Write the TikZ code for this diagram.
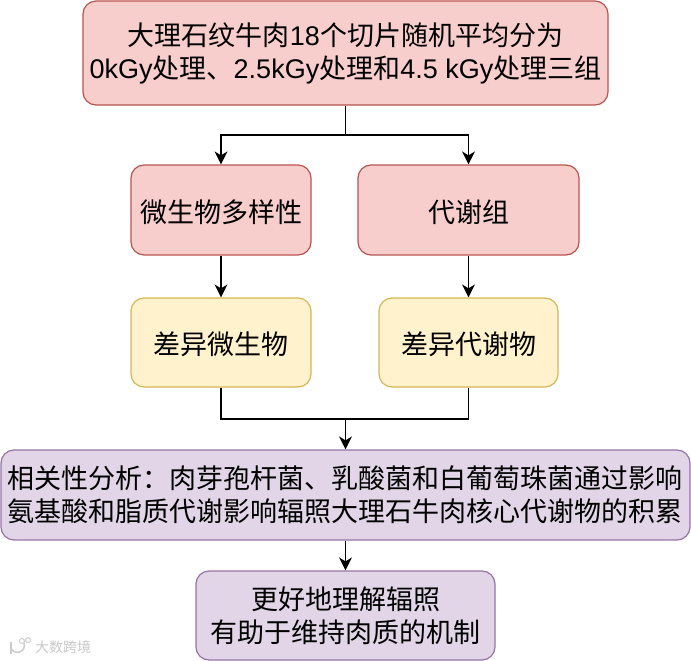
\documentclass[tikz,border=0pt]{standalone}
\usepackage{fontspec}
\usetikzlibrary{arrows.meta}
\setmainfont{Noto Sans CJK SC}
\newfontfamily\latfont{Liberation Sans}
\newcommand{\lat}[1]{{\latfont #1}}
\tikzset{
    boxbase/.style={draw,rounded corners=13pt,line width=1.2pt,inner sep=0pt,align=center,font=\fontsize{27}{33}\selectfont,execute at begin node={\rule{0pt}{27pt}}},
    redbox/.style={boxbase,fill=redfill,draw=redline},
    yellowbox/.style={boxbase,fill=yellowfill,draw=yellowline},
    purplebox/.style={boxbase,fill=purplefill,draw=purpleline},
    link/.style={line width=1.6pt,black},
    arrowlink/.style={link,-{Stealth[length=13pt,width=13pt,inset=4pt]}},
    markline/.style={draw=black!20,line width=1.5pt}
}
\definecolor{redfill}{HTML}{F8CECC} \definecolor{redline}{HTML}{B85450}
\definecolor{yellowfill}{HTML}{FFF2CC} \definecolor{yellowline}{HTML}{D6B656}
\definecolor{purplefill}{HTML}{E1D5E7} \definecolor{purpleline}{HTML}{9673A6}
\begin{document}
\begin{tikzpicture}[x=1pt,y=-1pt]
    \useasboundingbox (0,0) rectangle (691,661);
    \node[redbox,minimum width=525pt,minimum height=104pt] (top) at (345.5,53) {大理石纹牛肉\lat{18}个切片随机平均分为\\\lat{0kGy}处理、\lat{2.5kGy}处理和\lat{4.5 kGy}处理三组};
    \node[redbox,minimum width=180pt,minimum height=90pt] (micro) at (221,210) {微生物多样性};
    \node[redbox,minimum width=221pt,minimum height=90pt] (metab) at (468.5,210) {代谢组};
    \node[yellowbox,minimum width=180pt,minimum height=89pt] (diffmicro) at (221,342.5) {差异微生物};
    \node[yellowbox,minimum width=179pt,minimum height=89pt] (diffmetab) at (468.5,342.5) {差异代谢物};
    \node[purplebox,minimum width=689pt,minimum height=90pt] (corr) at (345.5,495) {相关性分析：肉芽孢杆菌、乳酸菌和白葡萄珠菌通过影响\\氨基酸和脂质代谢影响辐照大理石牛肉核心代谢物的积累};
    \node[purplebox,minimum width=299pt,minimum height=89pt] (result) at (345.5,615.5) {更好地理解辐照\\有助于维持肉质的机制};
    % faint watermark, bottom left
    \node[text=black!22,font=\fontsize{14}{14}\selectfont,inner sep=0pt] (mark) at (63,647) {大数跨境};
    \draw[markline] (11,642) -- (11,654); \draw[markline] (24,643) arc (20:-150:7pt);
    \draw[markline,line width=1pt] (22,641) circle (2.5pt); \draw[markline,line width=1pt] (28,640) circle (2.5pt);
    \coordinate (split) at (345.5,135);
    \coordinate (join) at (345.5,419);
    \draw[link] (top.south) -- (split);
    \draw[arrowlink] (split) -| (micro.north);
    \draw[arrowlink] (split) -| (metab.north);
    \draw[arrowlink] (micro) -- (diffmicro);
    \draw[arrowlink] (metab) -- (diffmetab);
    \draw[link] (diffmicro.south) |- (join);
    \draw[link] (diffmetab.south) |- (join);
    \draw[arrowlink] (join) -- (corr.north);
    \draw[arrowlink] (corr) -- (result);
\end{tikzpicture}
\end{document}
